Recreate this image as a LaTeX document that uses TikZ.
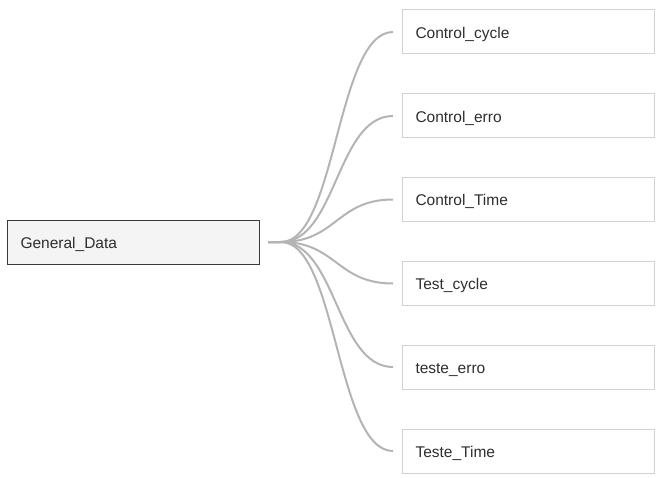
\documentclass[tikz,border=0pt]{standalone}
\usepackage{fontspec}
\setmainfont{Liberation Sans}
\usepackage{xcolor}
\definecolor{boxtext}{HTML}{2E2E2E}
\definecolor{boxline}{HTML}{D2D2D2}
\definecolor{rootline}{HTML}{3A3A3A}
\definecolor{rootfill}{HTML}{F4F4F4}
\definecolor{linkgray}{HTML}{B4B4B4}
\tikzset{
  leaf/.style={draw=boxline, line width=1pt, fill=white, anchor=west,
    text width=226pt, inner xsep=13pt, inner ysep=0pt, minimum height=44pt,
    text height=14pt, text depth=1.4pt,
    align=left, text=boxtext, font=\fontsize{15.5}{18}\selectfont},
  root/.style={leaf, draw=rootline, fill=rootfill},
  link/.style={draw=linkgray, line width=2pt}
}

\begin{document}
\begin{tikzpicture}[x=1pt,y=-1pt]
  \useasboundingbox (0,0) rectangle (668,478);
  \node (gd) [root] at (7,242) {General\_Data};
  \node (cc) [leaf] at (402,32) {Control\_cycle};
  \node (ce) [leaf] at (402,116) {Control\_erro};
  \node (ct) [leaf] at (402,199.5) {Control\_Time};
  \node (tc) [leaf] at (402,283.5) {Test\_cycle};
  \node (te) [leaf] at (402,367) {teste\_erro};
  \node (tt) [leaf] at (402,451) {Teste\_Time};

  \coordinate (gdo) at ([xshift=21pt]gd.east);
  \coordinate (mid) at (336.5,242);
  \draw[link] ([xshift=8pt]gd.east) -- (gdo)
    .. controls (mid) and (mid |- cc) .. ([xshift=-9pt]cc.west);
  \draw[link] ([xshift=8pt]gd.east) -- (gdo)
    .. controls (mid) and (mid |- ce) .. ([xshift=-9pt]ce.west);
  \draw[link] ([xshift=8pt]gd.east) -- (gdo)
    .. controls (mid) and (mid |- ct) .. ([xshift=-9pt]ct.west);
  \draw[link] ([xshift=8pt]gd.east) -- (gdo)
    .. controls (mid) and (mid |- tc) .. ([xshift=-9pt]tc.west);
  \draw[link] ([xshift=8pt]gd.east) -- (gdo)
    .. controls (mid) and (mid |- te) .. ([xshift=-9pt]te.west);
  \draw[link] ([xshift=8pt]gd.east) -- (gdo)
    .. controls (mid) and (mid |- tt) .. ([xshift=-9pt]tt.west);
\end{tikzpicture}
\end{document}
